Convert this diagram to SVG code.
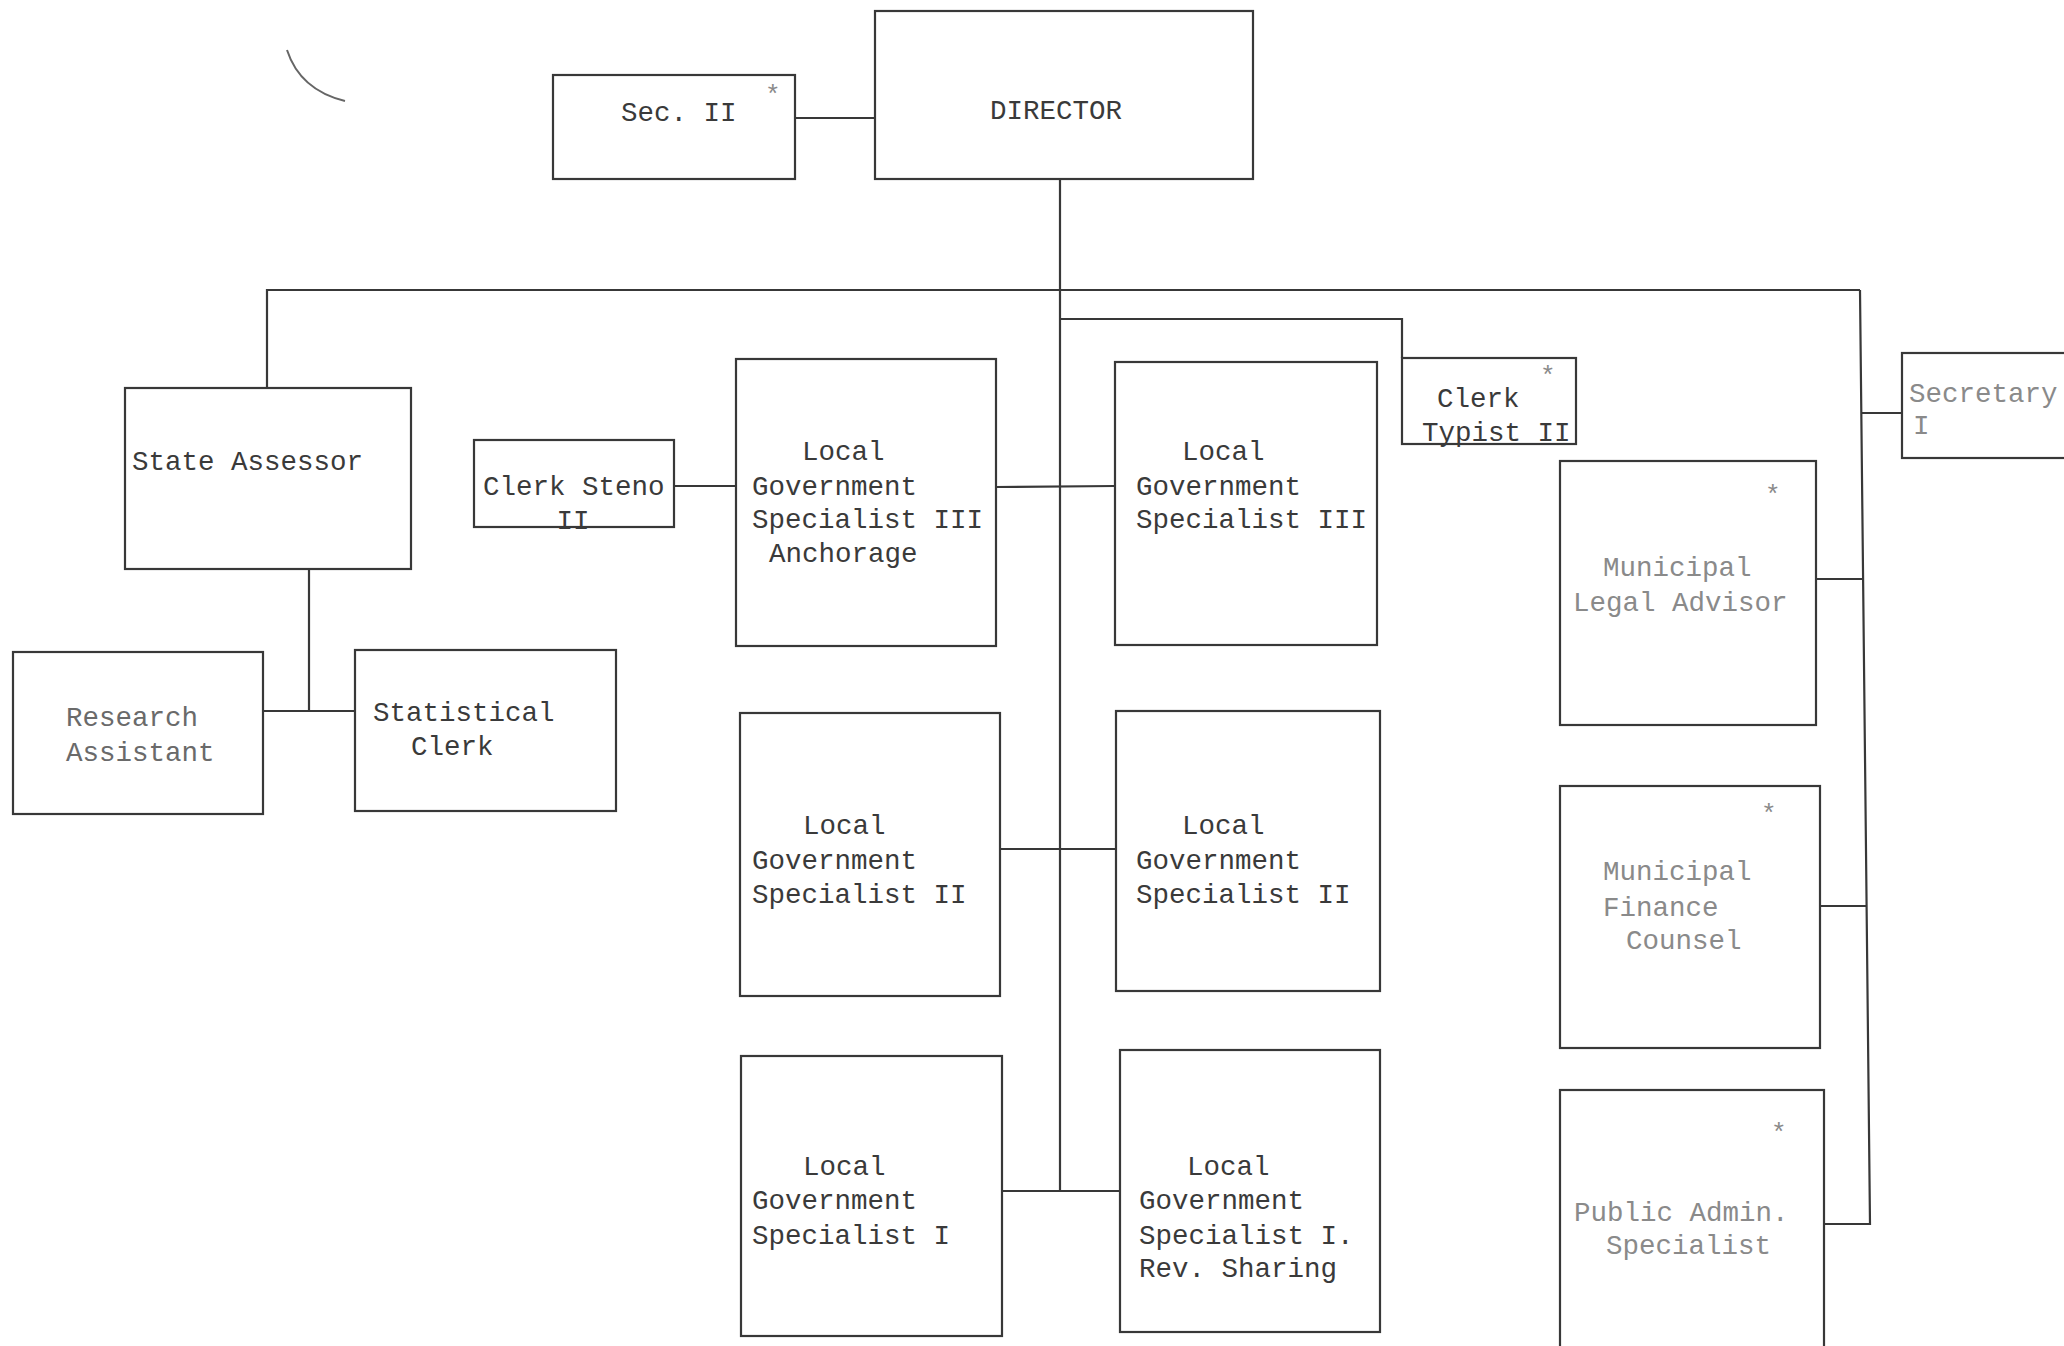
<svg xmlns="http://www.w3.org/2000/svg" width="2064" height="1346" viewBox="0 0 2064 1346">
<style>
.box{fill:none;stroke:#383838;stroke-width:2.2}
.ln{fill:none;stroke:#383838;stroke-width:2.2}
text{font-family:"Liberation Mono","DejaVu Sans Mono",monospace;font-size:27.5px;fill:#3a3a3a}
.f{fill:#6a6a6a}
.ff{fill:#8a8a8a}
.ast{font-size:26px;fill:#8a8a8a}
</style>
<rect x="0" y="0" width="2064" height="1346" fill="#ffffff"/>
<path d="M287,50 Q300,90 345,101" fill="none" stroke="#666" stroke-width="2"/>
<g id="connectors">
<polyline class="ln" points="795,118 875,118"/>
<polyline class="ln" points="1060,179 1060,1191"/>
<polyline class="ln" points="267,388 267,290 1860,290"/>
<polyline class="ln" points="1060,319 1402,319 1402,358"/>
<polyline class="ln" points="309,569 309,711"/>
<polyline class="ln" points="263,711 355,711"/>
<polyline class="ln" points="674,486 736,486"/>
<polyline class="ln" points="996,487 1115,486"/>
<polyline class="ln" points="1000,849 1116,849"/>
<polyline class="ln" points="1002,1191 1120,1191"/>
<polyline class="ln" points="1860,290 1870,1224 1824,1224"/>
<polyline class="ln" points="1861,413 1902,413"/>
<polyline class="ln" points="1816,579 1862,579"/>
<polyline class="ln" points="1820,906 1866,906"/>
</g>
<g id="director">
<rect class="box" x="875" y="11" width="378" height="168"/>
<text x="1056" y="119" text-anchor="middle">DIRECTOR</text>
</g>
<g id="sec2">
<rect class="box" x="553" y="75" width="242" height="104"/>
<text x="621" y="121">Sec. II</text>
<text class="ast" x="765" y="103">*</text>
</g>
<g id="state-assessor">
<rect class="box" x="125" y="388" width="286" height="181"/>
<text x="132" y="470">State Assessor</text>
</g>
<g id="research-assistant">
<rect class="box" x="13" y="652" width="250" height="162"/>
<text class="f" x="66" y="726">Research</text>
<text class="f" x="66" y="761">Assistant</text>
</g>
<g id="statistical-clerk">
<rect class="box" x="355" y="650" width="261" height="161"/>
<text x="373" y="721">Statistical</text>
<text x="411" y="755">Clerk</text>
</g>
<g id="clerk-steno">
<rect class="box" x="474" y="440" width="200" height="87"/>
<text x="483" y="495">Clerk Steno</text>
<text x="573" y="529" text-anchor="middle">II</text>
</g>
<g id="lgs3-anchorage">
<rect class="box" x="736" y="359" width="260" height="287"/>
<text x="802" y="460">Local</text>
<text x="752" y="495">Government</text>
<text x="752" y="528">Specialist III</text>
<text x="769" y="562">Anchorage</text>
</g>
<g id="lgs3">
<rect class="box" x="1115" y="362" width="262" height="283"/>
<text x="1182" y="460">Local</text>
<text x="1136" y="495">Government</text>
<text x="1136" y="528">Specialist III</text>
</g>
<g id="lgs2-left">
<rect class="box" x="740" y="713" width="260" height="283"/>
<text x="803" y="834">Local</text>
<text x="752" y="869">Government</text>
<text x="752" y="903">Specialist II</text>
</g>
<g id="lgs2-right">
<rect class="box" x="1116" y="711" width="264" height="280"/>
<text x="1182" y="834">Local</text>
<text x="1136" y="869">Government</text>
<text x="1136" y="903">Specialist II</text>
</g>
<g id="lgs1-left">
<rect class="box" x="741" y="1056" width="261" height="280"/>
<text x="803" y="1175">Local</text>
<text x="752" y="1209">Government</text>
<text x="752" y="1244">Specialist I</text>
</g>
<g id="lgs1-rev">
<rect class="box" x="1120" y="1050" width="260" height="282"/>
<text x="1187" y="1175">Local</text>
<text x="1139" y="1209">Government</text>
<text x="1139" y="1244">Specialist I.</text>
<text x="1139" y="1277">Rev. Sharing</text>
</g>
<g id="clerk-typist">
<rect class="box" x="1402" y="358" width="174" height="86"/>
<text x="1437" y="407">Clerk</text>
<text x="1422" y="441">Typist II</text>
<text class="ast" x="1540" y="384">*</text>
</g>
<g id="secretary">
<rect class="box" x="1902" y="353" width="180" height="105" stroke="#777"/>
<text class="ff" x="1909" y="402">Secretary</text>
<text class="ff" x="1913" y="434" font-size="18">I</text>
</g>
<g id="legal-advisor">
<rect class="box" x="1560" y="461" width="256" height="264"/>
<text class="ff" x="1603" y="576">Municipal</text>
<text class="ff" x="1573" y="611">Legal Advisor</text>
<text class="ast" x="1765" y="503">*</text>
</g>
<g id="finance-counsel">
<rect class="box" x="1560" y="786" width="260" height="262"/>
<text class="ff" x="1603" y="880">Municipal</text>
<text class="ff" x="1603" y="916">Finance</text>
<text class="ff" x="1626" y="949">Counsel</text>
<text class="ast" x="1761" y="822">*</text>
</g>
<g id="public-admin">
<rect class="box" x="1560" y="1090" width="264" height="270"/>
<text class="ff" x="1574" y="1221">Public Admin.</text>
<text class="ff" x="1606" y="1254">Specialist</text>
<text class="ast" x="1771" y="1141">*</text>
</g>
</svg>
